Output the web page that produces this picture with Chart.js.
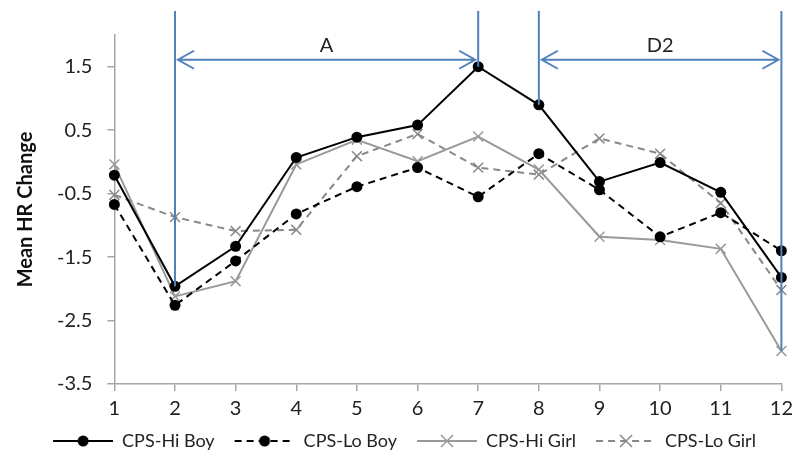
<!DOCTYPE html>
<html>
<head>
<meta charset="utf-8">
<script src="https://cdn.jsdelivr.net/npm/chart.js@4.4.1/dist/chart.umd.min.js"></script>
<style>
  html, body { margin: 0; padding: 0; background: #fff; }
</style>
</head>
<body>
<canvas id="hrChart" width="799" height="460"></canvas>
<script>
// Dữ liệu
const sessions = ['1', '2', '3', '4', '5', '6', '7', '8', '9', '10', '11', '12'];
const hiBoy  = [-0.21, -1.96, -1.33, 0.07, 0.39, 0.58, 1.50, 0.90, -0.31, -0.01, -0.48, -1.82];
const loBoy  = [-0.67, -2.26, -1.56, -0.82, -0.39, -0.09, -0.55, 0.13, -0.44, -1.18, -0.80, -1.40];
const hiGirl = [-0.04, -2.12, -1.88, -0.04, 0.35, 0.01, 0.40, -0.12, -1.18, -1.23, -1.37, -2.98];
const loGirl = [-0.52, -0.87, -1.09, -1.07, 0.09, 0.44, -0.09, -0.20, 0.37, 0.13, -0.65, -2.02];
const yTicks = [-3.5, -2.5, -1.5, -0.5, 0.5, 1.5];

// Các mốc giai đoạn (chú thích màu xanh)
const phases = [
    { from: '2', to: '7', label: 'A' },
    { from: '8', to: '12', label: 'D2' },
];
const markerSessions = ['2', '7', '8', '12'];
const markerEnds = [hiBoy[1], hiBoy[6], hiBoy[7], hiGirl[11]];
const markerTop = 2.38;
const arrowLevel = 1.61;

const FONT = 'Lato, "Open Sans", sans-serif';
const blue = '#4f81bd';

// Ảnh mẫu cho chú giải: đường + điểm (15px trống bên trái để giãn cách các mục)
const makeLegendSample = (color, dashed, marker) => {
    const c = document.createElement('canvas');
    c.width = 75; c.height = 16;
    const g = c.getContext('2d');
    g.strokeStyle = color;
    g.lineWidth = 2;
    if (dashed) g.setLineDash([7, 5]);
    g.beginPath(); g.moveTo(15, 8); g.lineTo(75, 8); g.stroke();
    g.setLineDash([]);
    if (marker === 'circle') {
        g.fillStyle = color;
        g.beginPath(); g.arc(45, 8, 5.5, 0, Math.PI * 2); g.fill();
    } else {
        g.lineWidth = 1.5;
        g.beginPath();
        g.moveTo(39, 2); g.lineTo(51, 14);
        g.moveTo(51, 2); g.lineTo(39, 14);
        g.stroke();
    }
    return c;
};

const phasePlugin = {
    id: 'phasePlugin',
    afterDatasetsDraw(chart) {
        const { ctx, scales: { x, y } } = chart;
        ctx.save();
        ctx.strokeStyle = blue;
        ctx.lineWidth = 2;
        markerSessions.forEach((s, i) => {
            const px = x.getPixelForValue(sessions.indexOf(s));
            ctx.beginPath();
            ctx.moveTo(px, y.getPixelForValue(markerTop));
            ctx.lineTo(px, y.getPixelForValue(markerEnds[i]));
            ctx.stroke();
        });
        const py = y.getPixelForValue(arrowLevel);
        phases.forEach(p => {
            const x1 = x.getPixelForValue(sessions.indexOf(p.from)) + 3;
            const x2 = x.getPixelForValue(sessions.indexOf(p.to)) - 3;
            ctx.beginPath();
            ctx.moveTo(x1, py); ctx.lineTo(x2, py);
            ctx.moveTo(x1 + 16, py - 9); ctx.lineTo(x1, py); ctx.lineTo(x1 + 16, py + 9);
            ctx.moveTo(x2 - 16, py - 9); ctx.lineTo(x2, py); ctx.lineTo(x2 - 16, py + 9);
            ctx.stroke();
            ctx.fillStyle = '#222';
            ctx.font = '20px ' + FONT;
            ctx.textAlign = 'center';
            ctx.textBaseline = 'bottom';
            ctx.fillText(p.label, (x1 + x2) / 2, py - 4);
        });
        ctx.restore();
    }
};

const ctx = document.getElementById('hrChart').getContext('2d');

new Chart(ctx, {
    type: 'line',
    data: {
        labels: sessions,
        datasets: [
            {
                label: 'CPS-Hi Boy', data: hiBoy,
                borderColor: '#000', backgroundColor: '#000', borderWidth: 2,
                pointStyle: 'circle', pointRadius: 5.5, pointBorderWidth: 0,
                legendSample: makeLegendSample('#000', false, 'circle'),
            },
            {
                label: 'CPS-Lo Boy', data: loBoy,
                borderColor: '#000', backgroundColor: '#000', borderWidth: 2, borderDash: [7, 5],
                pointStyle: 'circle', pointRadius: 5.5, pointBorderWidth: 0,
                legendSample: makeLegendSample('#000', true, 'circle'),
            },
            {
                label: 'CPS-Hi Girl', data: hiGirl,
                borderColor: '#999', backgroundColor: '#999', borderWidth: 2,
                pointStyle: 'crossRot', pointRadius: 7, pointBorderWidth: 1.5,
                legendSample: makeLegendSample('#999', false, 'x'),
            },
            {
                label: 'CPS-Lo Girl', data: loGirl,
                borderColor: '#888', backgroundColor: '#888', borderWidth: 2, borderDash: [7, 5],
                pointStyle: 'crossRot', pointRadius: 7, pointBorderWidth: 1.5,
                legendSample: makeLegendSample('#888', true, 'x'),
            },
        ]
    },
    options: {
        responsive: false,
        animation: false,
        devicePixelRatio: 1,
        layout: { padding: { top: 35, right: 15, left: 10, bottom: 0 } },
        plugins: {
            tooltip: { enabled: false },
            legend: {
                position: 'bottom',
                labels: {
                    usePointStyle: true,
                    pointStyleWidth: 75,
                    padding: 5,
                    color: '#222',
                    font: { family: FONT, size: 18 },
                    generateLabels: (chart) => chart.data.datasets.map((ds, i) => ({
                        text: ds.label,
                        pointStyle: ds.legendSample,
                        datasetIndex: i,
                        fontColor: '#222',
                        lineWidth: 0,
                        hidden: false,
                    })),
                },
            },
        },
        scales: {
            x: {
                offset: false,
                grid: { drawOnChartArea: false, drawTicks: true, tickLength: 7, color: '#a6a6a6', lineWidth: 1.5 },
                border: { color: '#a6a6a6', width: 1.5 },
                ticks: { color: '#222', font: { family: FONT, size: 20 }, padding: 6, maxRotation: 0, autoSkip: false },
            },
            y: {
                min: -3.5,
                max: 2,
                afterBuildTicks: (axis) => { axis.ticks = yTicks.map(v => ({ value: v })); },
                grid: { drawOnChartArea: false, drawTicks: true, tickLength: 7, color: '#a6a6a6', lineWidth: 1.5 },
                border: { color: '#a6a6a6', width: 1.5 },
                ticks: {
                    color: '#222', font: { family: FONT, size: 20 }, padding: 15,
                    callback: (v) => Number(v).toFixed(1),
                },
                title: {
                    display: true, text: 'Mean HR Change', color: '#111',
                    font: { family: FONT, size: 20, weight: 'bold' }, padding: { top: 4, bottom: 4 },
                },
            },
        },
    },
    plugins: [phasePlugin],
});
</script>
</body>
</html>
